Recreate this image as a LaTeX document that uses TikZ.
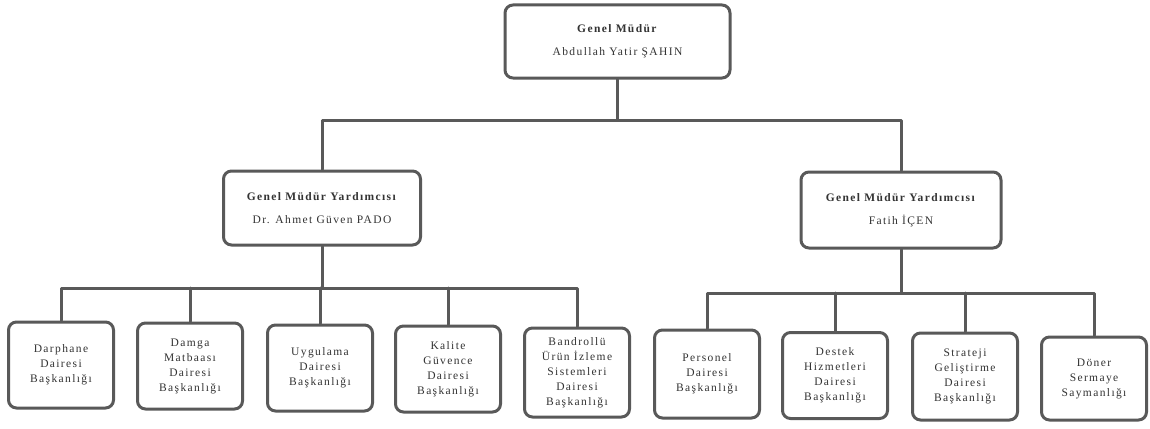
\documentclass[tikz,border=0pt]{standalone}
\usepackage{fontspec}
\setmainfont[LetterSpace=12]{Liberation Serif}
\usepackage{tikz}

\tikzset{
  kutu/.style={draw=black!65,line width=3pt,rounded corners=8pt,fill=white,align=center,inner sep=2pt,text=black!80,font=\fontsize{11.5}{15}\selectfont},
  ustkutu/.style={kutu,minimum width=225pt,minimum height=73pt},
  yardkutu/.style={kutu,minimum width=197pt,minimum height=74pt},
  altkutu/.style={kutu,minimum width=105pt,minimum height=86pt},
  baglanti/.style={draw=black!65,line width=3pt}
}

\begin{document}
\begin{tikzpicture}[line cap=round,line join=round,x=1pt,y=1pt]
		\useasboundingbox (0,0) rectangle (1150,-428);
		% genel mudur ve yardimcilari
		\node[ustkutu] (gm) at (617.5,-41.5) {\textbf{Genel Müdür}\\[8pt]Abdullah Yatir ŞAHIN};
		\node[yardkutu] (gmyA) at (322,-208) {\textbf{Genel Müdür Yardımcısı}\\[8pt]Dr. Ahmet Güven PADO};
		\node[yardkutu,minimum width=200pt,minimum height=76pt] (gmyB) at (901,-210) {\textbf{Genel Müdür Yardımcısı}\\[8pt]Fatih İÇEN};
		% daire baskanliklari
		\node[altkutu] (darphane) at (61,-365) {Darphane\\Dairesi\\Başkanlığı};
		\node[altkutu] (damga) at (190,-366) {Damga\\Matbaası\\Dairesi\\Başkanlığı};
		\node[altkutu] (uygulama) at (320,-368) {Uygulama\\Dairesi\\Başkanlığı};
		\node[altkutu] (kalite) at (448,-369) {Kalite\\Güvence\\Dairesi\\Başkanlığı};
		\node[altkutu,minimum height=89pt] (bandrol) at (577,-372.5) {Bandrollü\\Ürün İzleme\\Sistemleri\\Dairesi\\Başkanlığı};
		\node[altkutu,minimum height=88pt] (personel) at (707,-374) {Personel\\Dairesi\\Başkanlığı};
		\node[altkutu] (destek) at (835,-375.5) {Destek\\Hizmetleri\\Dairesi\\Başkanlığı};
		\node[altkutu,minimum height=87pt] (strateji) at (965,-376.5) {Strateji\\Geliştirme\\Dairesi\\Başkanlığı};
		\node[altkutu,minimum height=83pt] (doner) at (1094,-378.5) {Döner\\Sermaye\\Saymanlığı};
		% baglantilar
		\coordinate (busA) at (gm.south |- 0,-120);
		\coordinate (busB) at (gmyA.south |- 0,-288);
		\coordinate (busC) at (gmyB.south |- 0,-293);
		\draw[baglanti] (gm.south) -- (busA);
		\draw[baglanti] (gmyA.north) |- (busA) -| (gmyB.north);
		\draw[baglanti] (gmyA.south) -- (busB);
		\draw[baglanti] (darphane.north) |- (busB) -| (bandrol.north);
		\foreach \d in {damga,uygulama,kalite}
			\draw[baglanti] (\d.north) -- (\d.north |- busB);
		\draw[baglanti] (gmyB.south) -- (busC);
		\draw[baglanti] (personel.north) |- (busC) -| (doner.north);
		\foreach \d in {destek,strateji}
			\draw[baglanti] (\d.north) -- (\d.north |- busC);
\end{tikzpicture}
\end{document}
